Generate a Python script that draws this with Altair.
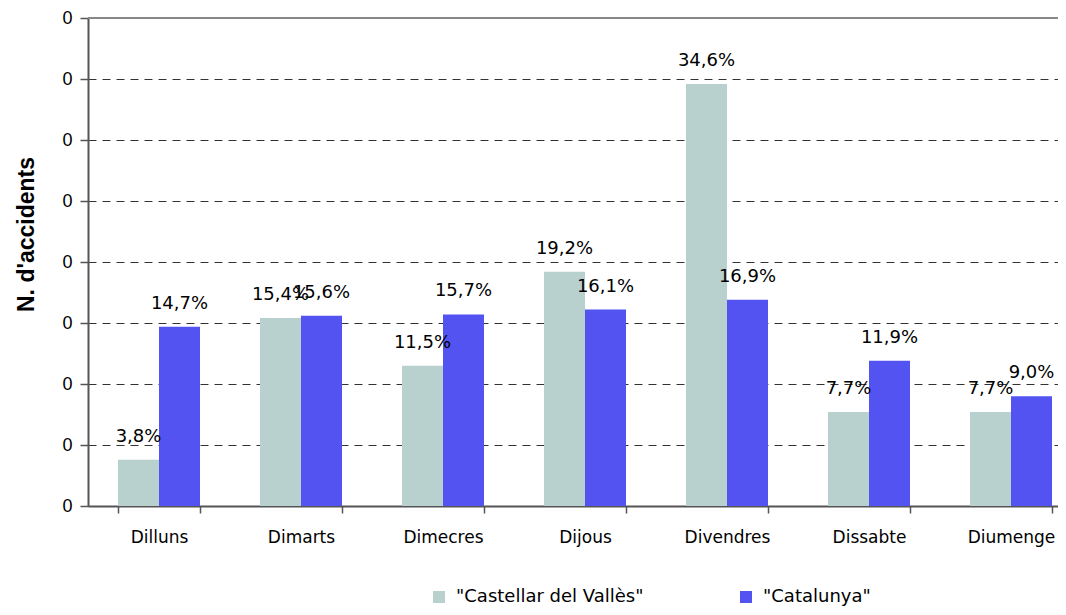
import altair as alt
import pandas as pd

days = ["Dilluns", "Dimarts", "Dimecres", "Dijous", "Divendres", "Dissabte", "Diumenge"]
series_names = ['"Castellar del Vallès"', '"Catalunya"']
castellar = [3.8, 15.4, 11.5, 19.2, 34.6, 7.7, 7.7]
catalunya = [14.7, 15.6, 15.7, 16.1, 16.9, 11.9, 9.0]
colors = ["#B8D0CE", "#5353F2"]
y_ticks = [0, 5, 10, 15, 20, 25, 30, 35, 40]
y_max = 40

rows = []
for s, vals in zip(series_names, [castellar, catalunya]):
    for d, v in zip(days, vals):
        rows.append({"day": d, "series": s, "value": v,
                     "label": f"{v:.1f}".replace(".", ",") + "%"})
df = pd.DataFrame(rows)

x = alt.X("day:N", sort=days,
          scale=alt.Scale(range=[0, 994], paddingInner=0.4225, paddingOuter=0.21125),
          axis=alt.Axis(title=None, labelAngle=0, tickBand="extent", grid=False,
                        labelFont="DejaVu Sans", labelFontSize=17, labelColor="black",
                        tickSize=7, tickColor="#555", tickWidth=1.5, labelPadding=16,
                        domainColor="#555", domainWidth=2))
y = alt.Y("value:Q", scale=alt.Scale(domain=[0, y_max], nice=False),
          axis=alt.Axis(values=y_ticks, labelExpr="'0'", title="N. d'accidents",
                        titleFont="Liberation Sans", titleFontSize=23, titleFontWeight="bold",
                        titleColor="black", titleX=-50, titleY=216, titleAngle=270,
                        titleBaseline="bottom", titleAlign="center",
                        grid=True, gridDash=[8, 6], gridColor="#333", gridWidth=1,
                        tickSize=8, tickColor="#555", tickWidth=1.5, labelPadding=8,
                        labelFont="Liberation Sans", labelFontSize=18, labelColor="black",
                        domainColor="#555", domainWidth=2))
xo = alt.XOffset("series:N", sort=series_names, scale=alt.Scale(paddingInner=0, paddingOuter=0))

bars = alt.Chart().mark_bar().encode(
    x=x, y=y, xOffset=xo,
    color=alt.Color("series:N", sort=series_names,
                    scale=alt.Scale(domain=series_names, range=colors),
                    legend=alt.Legend(title=None, orient="none", legendX=342, legendY=570,
                                      direction="horizontal", symbolType="square",
                                      symbolSize=144, symbolStrokeWidth=0, padding=0,
                                      labelFont="DejaVu Sans", labelFontSize=18,
                                      labelColor="black", labelOffset=8, columnPadding=93,
                                      labelLimit=400))
)
text = alt.Chart().mark_text(dy=-23, baseline="middle", font="DejaVu Sans",
                              fontSize=18, color="black").encode(
    x=x, y=y, xOffset=xo, text="label:N"
)
top_border = alt.Chart().mark_rule(color="#888", strokeWidth=2).encode(
    y=alt.datum(y_max), x=alt.value(0), x2=alt.value(1000)
)

chart = alt.layer(bars, text, top_border, data=df).properties(
    width=970, height=488,
    autosize=alt.AutoSizeParams(type="none"),
    padding={"left": 80, "top": 10, "right": 0, "bottom": 100},
).configure_view(stroke=None)

chart.save("out.html", embed_options={"renderer": "svg", "actions": False})
